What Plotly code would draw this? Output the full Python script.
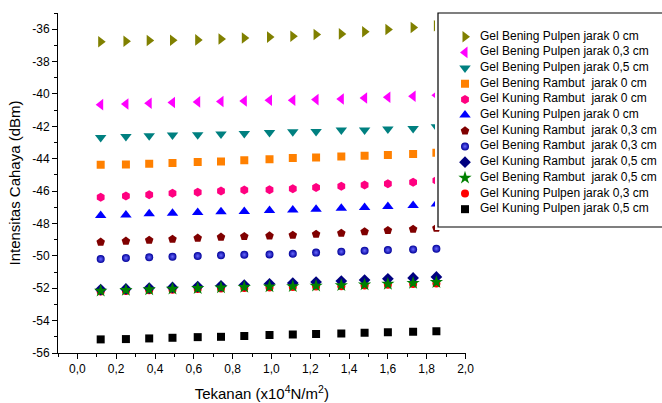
import plotly.graph_objects as go

# ---------------- data ----------------
X = [0.12, 0.25, 0.37, 0.49, 0.62, 0.74, 0.86, 0.99, 1.11, 1.23, 1.36, 1.48, 1.60, 1.73, 1.85]

bening_pulpen_0 = [-36.78, -36.74, -36.70, -36.68, -36.66, -36.60, -36.54, -36.49, -36.43, -36.33, -36.29, -36.16, -36.02, -35.90, -35.79]
bening_pulpen_03 = [-40.66, -40.62, -40.57, -40.53, -40.49, -40.47, -40.43, -40.39, -40.39, -40.35, -40.31, -40.25, -40.20, -40.14, -40.08]
bening_pulpen_05 = [-42.69, -42.63, -42.58, -42.54, -42.52, -42.48, -42.44, -42.38, -42.34, -42.32, -42.23, -42.22, -42.17, -42.14, -42.03]
bening_rambut_0 = [-44.37, -44.35, -44.31, -44.26, -44.20, -44.17, -44.10, -44.04, -43.96, -43.92, -43.86, -43.82, -43.77, -43.71, -43.63]
kuning_rambut_0 = [-46.38, -46.30, -46.22, -46.13, -46.07, -45.99, -45.93, -45.91, -45.85, -45.78, -45.70, -45.62, -45.54, -45.46, -45.35]
kuning_pulpen_0 = [-47.51, -47.47, -47.40, -47.37, -47.32, -47.28, -47.26, -47.20, -47.16, -47.12, -47.06, -47.02, -46.95, -46.89, -46.79]
kuning_rambut_03 = [-49.15, -49.09, -49.03, -48.97, -48.90, -48.84, -48.80, -48.76, -48.72, -48.66, -48.60, -48.51, -48.43, -48.35, -48.29]
bening_rambut_03 = [-50.20, -50.13, -50.09, -50.05, -50.01, -49.97, -49.93, -49.91, -49.87, -49.80, -49.74, -49.68, -49.64, -49.60, -49.56]
kuning_rambut_05 = [-52.08, -52.04, -51.99, -51.95, -51.90, -51.85, -51.80, -51.73, -51.68, -51.62, -51.56, -51.49, -51.42, -51.36, -51.30]
bening_rambut_05 = [-52.16, -52.12, -52.08, -52.04, -52.00, -51.96, -51.93, -51.90, -51.88, -51.85, -51.82, -51.78, -51.74, -51.68, -51.63]
kuning_pulpen_03 = [-52.20, -52.17, -52.13, -52.09, -52.05, -52.01, -51.98, -51.95, -51.93, -51.90, -51.87, -51.83, -51.79, -51.74, -51.70]
kuning_pulpen_05 = [-55.16, -55.14, -55.10, -55.06, -55.02, -55.00, -54.95, -54.89, -54.85, -54.83, -54.79, -54.75, -54.72, -54.69, -54.65]

NAMES = [
    "Gel Bening Pulpen jarak 0 cm",
    "Gel Bening Pulpen jarak 0,3 cm",
    "Gel Bening Pulpen jarak 0,5 cm",
    "Gel Bening Rambut\u00a0 jarak 0 cm",
    "Gel Kuning Rambut\u00a0 jarak 0 cm",
    "Gel Kuning Pulpen jarak 0 cm",
    "Gel Kuning Rambut\u00a0 jarak 0,3 cm",
    "Gel Bening Rambut\u00a0 jarak 0,3 cm",
    "Gel Kuning Rambut\u00a0 jarak 0,5 cm",
    "Gel Bening Rambut\u00a0 jarak 0,5 cm",
    "Gel Kuning Pulpen jarak 0,3 cm",
    "Gel Kuning Pulpen jarak 0,5 cm",
]
SERIES = [bening_pulpen_0, bening_pulpen_03, bening_pulpen_05, bening_rambut_0,
          kuning_rambut_0, kuning_pulpen_0, kuning_rambut_03, bening_rambut_03,
          kuning_rambut_05, bening_rambut_05, kuning_pulpen_03, kuning_pulpen_05]

Y_TICKS = [-56, -54, -52, -50, -48, -46, -44, -42, -40, -38, -36]
Y_TICK_LABELS = ["-56", "-54", "-52", "-50", "-48", "-46", "-44", "-42", "-40", "-38", "-36"]

# ---------------- styles ----------------
STYLES = [
    dict(symbol="triangle-right", color="#808000", size=10),
    dict(symbol="triangle-left", color="#FF00FF", size=10),
    dict(symbol="triangle-down", color="#008080", size=10),
    dict(symbol="square", color="#FF8000", size=8),
    dict(symbol="hexagon", color="#FF0080", size=9),
    dict(symbol="triangle-up", color="#0000FF", size=10),
    dict(symbol="pentagon", color="#800000", size=9),
    dict(symbol="circle", color="#00009A", size=8, gradient=dict(type="radial", color="#6A6AFF")),
    dict(symbol="diamond", color="#000080", size=9),
    dict(symbol="star", color="#008000", size=10),
    dict(symbol="circle", color="#FF0000", size=8),
    dict(symbol="square", color="#000000", size=8),
]
DRAW_ORDER = [0, 1, 2, 3, 4, 5, 6, 7, 10, 8, 9, 11]

FONT = "Liberation Sans, Arial, sans-serif"
W, H = 662, 403
PL, PR, PT, PB = 58, 465.5, 13, 353.3      # main plot box in pixels
MT, MB = 8, 50                              # figure margins top/bottom
paper_w = W - PL
paper_h = H - MT - MB

def px_x(p):
    return (p - PL) / paper_w

def px_y(p):
    return (H - MB - p) / paper_h

fig = go.Figure()

for i in DRAW_ORDER:
    st = STYLES[i]
    marker = dict(symbol=st["symbol"], color=st["color"], size=st["size"], line=dict(width=0))
    if "gradient" in st:
        marker["gradient"] = st["gradient"]
    fig.add_trace(go.Scatter(x=X, y=SERIES[i], mode="markers", name=NAMES[i],
                             marker=marker, showlegend=False, hoverinfo="x+y+name",
                             xaxis="x", yaxis="y"))

# ---------------- custom legend (overlay axes in pixel units) ----------------
LEG_L, LEG_T, LEG_B = 438, 13, 227
ROW0, ROWH = 36.7, 15.68
MARK_X, TEXT_X = 465, 480
rows = list(range(len(NAMES)))
row_y = [ROW0 + ROWH * r for r in rows]

for i in rows:
    st = STYLES[i]
    marker = dict(symbol=st["symbol"], color=st["color"], size=st["size"], line=dict(width=0))
    if "gradient" in st:
        marker["gradient"] = st["gradient"]
    fig.add_trace(go.Scatter(x=[MARK_X], y=[row_y[i]], mode="markers", marker=marker,
                             showlegend=False, hoverinfo="skip", xaxis="x2", yaxis="y2",
                             cliponaxis=False))

fig.add_trace(go.Scatter(x=[TEXT_X] * len(NAMES), y=row_y, mode="text", text=NAMES,
                         textposition="middle right",
                         textfont=dict(family=FONT, size=12, color="black"),
                         showlegend=False, hoverinfo="skip", xaxis="x2", yaxis="y2",
                         cliponaxis=False))

fig.add_shape(type="rect", xref="x2", yref="y2", x0=LEG_L, x1=W + 10, y0=LEG_T, y1=LEG_B,
              line=dict(color="black", width=1.2), fillcolor="white", layer="below")

fig.update_layout(
    width=W, height=H,
    margin=dict(l=PL, r=0, t=MT, b=MB, pad=0, autoexpand=False),
    paper_bgcolor="white", plot_bgcolor="white",
    separators=",.",
    font=dict(family=FONT, size=12, color="black"),
    showlegend=False,
    xaxis=dict(
        domain=[0, px_x(PR)], range=[-0.1, 2.0], anchor="y", automargin=False,
        tickmode="linear", tick0=0, dtick=0.2, tickformat=".1f",
        ticks="outside", ticklen=5, tickwidth=1, tickcolor="black",
        minor=dict(ticks="outside", ticklen=3, dtick=0.1, tick0=0, tickcolor="black", showgrid=False),
        showline=True, linecolor="black", linewidth=1,
        showgrid=False, zeroline=False,
        tickfont=dict(family=FONT, size=12),
        title=dict(text="Tekanan (x10<sup>4</sup>N/m<sup>2</sup>)", font=dict(family=FONT, size=15), standoff=13),
    ),
    yaxis=dict(
        domain=[0, px_y(PT)], range=[-56, -35], anchor="x", automargin=False,
        tickmode="array", tickvals=Y_TICKS, ticktext=Y_TICK_LABELS,
        ticks="outside", ticklen=5, tickwidth=1, tickcolor="black",
        minor=dict(ticks="outside", ticklen=3, dtick=1, tick0=-56, tickcolor="black", showgrid=False),
        showline=True, linecolor="black", linewidth=1,
        showgrid=False, zeroline=False,
        tickfont=dict(family=FONT, size=12),
        title=dict(text="Intensitas Cahaya (dBm)", font=dict(family=FONT, size=15), standoff=8),
    ),
    xaxis2=dict(domain=[px_x(LEG_L - 3), 1], range=[LEG_L - 3, W], anchor="y2",
                visible=False, fixedrange=True, automargin=False),
    yaxis2=dict(domain=[px_y(LEG_B + 3), 1], range=[LEG_B + 3, MT], anchor="x2",
                visible=False, fixedrange=True, automargin=False),
)

fig.write_html("out.html", config=dict(displayModeBar=False),
               post_script="document.body.style.margin='0';document.body.style.overflow='hidden';")
